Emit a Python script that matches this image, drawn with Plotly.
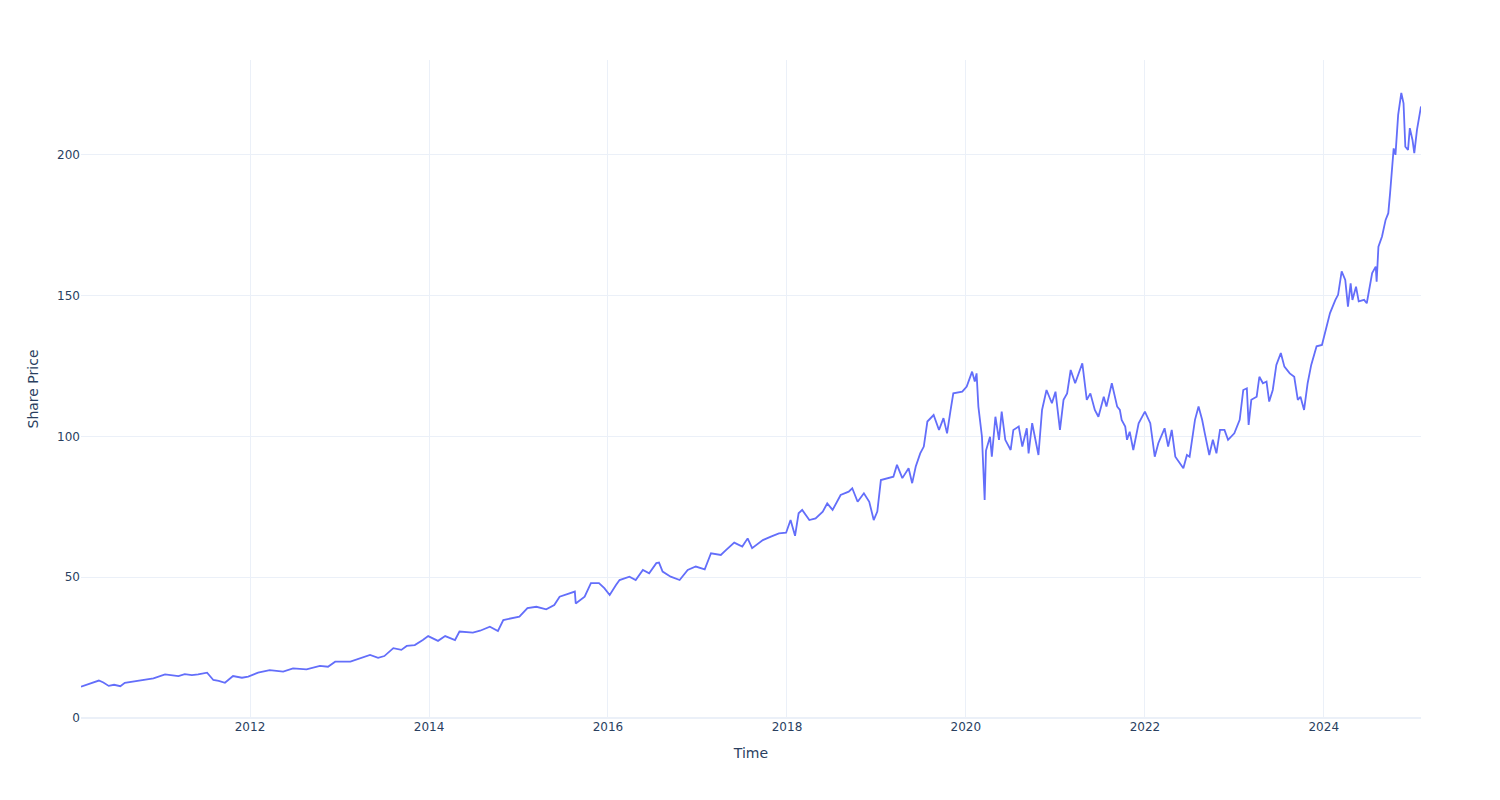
import plotly.graph_objects as go
from datetime import datetime

years = [
    2010.11, 2010.2, 2010.31, 2010.36, 2010.42, 2010.48, 2010.55, 2010.6, 2010.7, 2010.79,
    2010.92, 2011.05, 2011.2, 2011.27, 2011.35, 2011.42, 2011.52, 2011.59, 2011.65, 2011.72,
    2011.81, 2011.91, 2011.98, 2012.09, 2012.22, 2012.37, 2012.48, 2012.63, 2012.78, 2012.87,
    2012.95, 2013.12, 2013.19, 2013.34, 2013.43, 2013.5, 2013.6, 2013.69, 2013.75, 2013.84,
    2013.93, 2013.99, 2014.1, 2014.18, 2014.29, 2014.34, 2014.49, 2014.57, 2014.68, 2014.77,
    2014.83, 2014.94, 2015.01, 2015.1, 2015.2, 2015.31, 2015.4, 2015.46, 2015.57, 2015.63,
    2015.64, 2015.74, 2015.81, 2015.9, 2015.96, 2016.02, 2016.09, 2016.13, 2016.24, 2016.31,
    2016.39, 2016.46, 2016.54, 2016.57, 2016.61, 2016.7, 2016.8, 2016.89, 2016.98, 2017.08,
    2017.15, 2017.26, 2017.32, 2017.41, 2017.5, 2017.56, 2017.61, 2017.73, 2017.82, 2017.91,
    2017.99, 2018.04, 2018.09, 2018.13, 2018.17, 2018.25, 2018.32, 2018.4, 2018.45, 2018.51,
    2018.6, 2018.69, 2018.73, 2018.79, 2018.86, 2018.92, 2018.97, 2019.01, 2019.05, 2019.14,
    2019.19, 2019.23, 2019.29, 2019.36, 2019.4, 2019.44, 2019.49, 2019.53, 2019.57, 2019.64,
    2019.7, 2019.75, 2019.79, 2019.83, 2019.86, 2019.96, 2020.01, 2020.07, 2020.1, 2020.12,
    2020.14, 2020.18, 2020.21, 2020.225, 2020.27, 2020.29, 2020.33, 2020.37, 2020.4, 2020.44,
    2020.5, 2020.53, 2020.59, 2020.63, 2020.68, 2020.7, 2020.74, 2020.81, 2020.85, 2020.9,
    2020.96, 2021.0, 2021.05, 2021.09, 2021.13, 2021.17, 2021.22, 2021.3, 2021.35, 2021.39,
    2021.44, 2021.48, 2021.54, 2021.57, 2021.63, 2021.69, 2021.72, 2021.74, 2021.78, 2021.8,
    2021.83, 2021.87, 2021.93, 2022.0, 2022.06, 2022.11, 2022.15, 2022.22, 2022.26, 2022.3,
    2022.34, 2022.43, 2022.47, 2022.5, 2022.56, 2022.6, 2022.64, 2022.67, 2022.72, 2022.76,
    2022.8, 2022.84, 2022.89, 2022.93, 2023.0, 2023.06, 2023.1, 2023.14, 2023.16, 2023.19,
    2023.25, 2023.28, 2023.32, 2023.36, 2023.39, 2023.43, 2023.47, 2023.52, 2023.56, 2023.62,
    2023.67, 2023.71, 2023.74, 2023.78, 2023.82, 2023.86, 2023.92, 2023.98, 2024.03, 2024.07,
    2024.13, 2024.16, 2024.2, 2024.24, 2024.27, 2024.3, 2024.32, 2024.36, 2024.39, 2024.45,
    2024.48, 2024.5, 2024.54, 2024.58, 2024.59, 2024.61, 2024.65, 2024.69, 2024.72, 2024.74,
    2024.76, 2024.78, 2024.8, 2024.83, 2024.865, 2024.89, 2024.91, 2024.94, 2024.96, 2024.99,
    2025.01, 2025.04, 2025.085,
]

prices = [
    11.1, 12.0, 13.3, 12.6, 11.4, 11.8, 11.3, 12.5, 13.0, 13.5,
    14.1, 15.5, 14.9, 15.6, 15.2, 15.5, 16.1, 13.5, 13.2, 12.5,
    14.9, 14.3, 14.7, 16.1, 17.0, 16.5, 17.6, 17.3, 18.5, 18.2,
    20.0, 20.0, 20.8, 22.4, 21.4, 22.0, 24.8, 24.2, 25.6, 25.9,
    27.7, 29.1, 27.4, 29.1, 27.7, 30.7, 30.3, 31.0, 32.4, 30.9,
    34.8, 35.4, 36.0, 39.0, 39.5, 38.6, 40.1, 43.1, 44.3, 44.9,
    40.7, 43.1, 47.9, 47.9, 46.1, 43.7, 47.2, 49.0, 50.2, 49.0,
    52.6, 51.4, 55.0, 55.2, 52.0, 50.2, 49.0, 52.6, 53.8, 52.8,
    58.5, 57.9, 59.7, 62.3, 60.9, 63.8, 60.3, 63.2, 64.4, 65.6,
    65.8, 70.3, 64.7, 72.7, 73.9, 70.3, 70.9, 73.3, 76.2, 73.9,
    79.2, 80.4, 81.6, 76.8, 79.8, 76.8, 70.3, 73.3, 84.5, 85.2,
    85.7, 89.9, 85.2, 88.7, 83.4, 89.3, 94.0, 96.4, 105.3, 107.6,
    102.3, 106.5, 101.1, 109.4, 115.3, 115.9, 117.7, 123.0, 119.5, 122.4,
    110.6, 99.9, 77.4, 95.0, 99.9, 92.8, 107.0, 98.8, 108.8, 98.8,
    95.2, 102.3, 103.5, 96.4, 102.9, 94.0, 104.7, 93.4, 109.4, 116.5,
    111.8, 115.9, 102.3, 113.0, 115.3, 123.6, 118.9, 126.0, 113.0, 115.3,
    109.4, 107.0, 114.1, 110.6, 118.9, 110.6, 109.4, 105.9, 103.5, 98.8,
    101.7, 95.2, 104.7, 108.8, 104.7, 92.8, 97.6, 102.9, 96.4, 102.3,
    92.8, 88.7, 93.4, 92.8, 105.9, 110.6, 105.9, 101.1, 93.4, 98.8,
    94.0, 102.3, 102.3, 98.8, 101.1, 105.9, 116.5, 117.1, 104.1, 113.0,
    114.1, 121.2, 118.9, 119.5, 112.4, 116.5, 125.4, 129.6, 124.8, 122.4,
    121.2, 113.0, 114.1, 109.4, 118.9, 125.4, 132.0, 132.5, 139.0, 143.8,
    148.5, 150.3, 158.6, 155.6, 146.1, 154.4, 148.5, 153.2, 148.0, 148.5,
    147.3, 150.9, 158.0, 160.3, 155.0, 167.4, 171.0, 176.9, 179.3, 186.4,
    195.8, 202.3, 200.0, 214.2, 222.0, 218.3, 202.9, 201.8, 209.5, 205.3,
    200.6, 208.9, 217.2,
]


def to_date(y):
    yr = int(y)
    start = datetime(yr, 1, 1)
    end = datetime(yr + 1, 1, 1)
    return start + (end - start) * (y - yr)


dates = [to_date(y) for y in years]

fig = go.Figure()
fig.add_trace(go.Scatter(
    x=dates, y=prices, mode="lines",
    line=dict(color="#636efa", width=1.8),
    name="Share Price",
))

fig.update_layout(
    template="plotly_white",
    width=1500, height=800,
    font=dict(family="DejaVu Sans", size=12, color="#2a3f5f"),
    margin=dict(l=73, r=87, t=52, b=90, autoexpand=False),
    showlegend=False,
    xaxis=dict(title=dict(text="Time", font=dict(size=14))),
    yaxis=dict(title=dict(text="Share Price", font=dict(size=14)), range=[0, 233.7]),
)

fig.write_html("out.html")
